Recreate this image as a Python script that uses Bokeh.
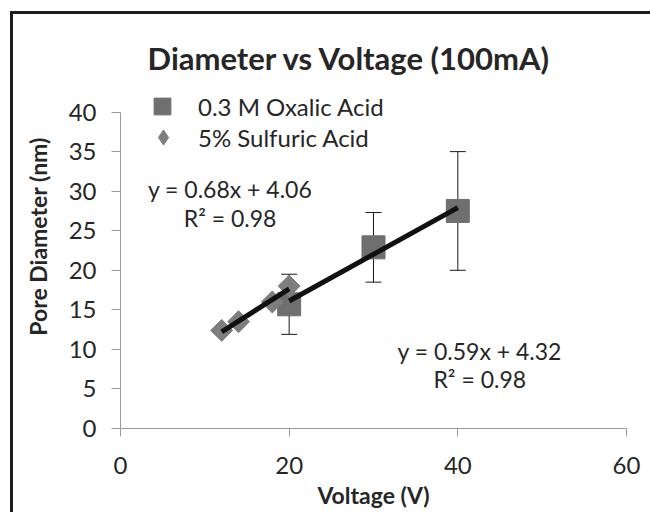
from bokeh.plotting import figure
from bokeh.models import (ColumnDataSource, Whisker, TeeHead, Legend, LegendItem,
                          FixedTicker, Label, Range1d, Spacer)
from bokeh.layouts import column, row
from bokeh.embed import file_html
from bokeh.resources import INLINE
import math

# ---------------- data ----------------
oxalic_x = [20, 30, 40]
oxalic_y = [15.7, 22.9, 27.5]
oxalic_err = [3.8, 4.4, 7.5]

sulfuric_x = [12, 14, 18, 20]
sulfuric_y = [12.4, 13.5, 16.0, 18.0]

fit_oxalic = (0.59, 4.32)     # slope, intercept
fit_sulfuric = (0.68, 4.06)

x_ticks = [0, 20, 40, 60]
y_ticks = [0, 5, 10, 15, 20, 25, 30, 35, 40]

title_text = "Diameter vs Voltage (100mA)"
x_title = "Voltage (V)"
y_title = "Pore Diameter (nm)"
eq_sulfuric = ["y = 0.68x + 4.06", "R² = 0.98"]
eq_oxalic = ["y = 0.59x + 4.32", "R² = 0.98"]

FONT = "Lato"
TXT = "#262626"

W, H = 640, 498
p = figure(width=W, height=H, output_backend="svg", toolbar_location=None, tools="",
           x_range=Range1d(0, 60), y_range=Range1d(0, 48.54),
           min_border_left=107, min_border_right=27, min_border_top=30,
           min_border_bottom=84)
p.outline_line_color = None
p.xgrid.visible = False
p.ygrid.visible = False
p.background_fill_color = "white"
p.border_fill_color = "white"

# title (drawn as a text annotation in the upper part of the frame)
p.add_layout(Label(x=27.16, y=46.78, text=title_text, text_align="center",
                   text_baseline="middle", text_font=FONT, text_font_size="31px",
                   text_font_style="bold", text_color=TXT))

# axes
for ax in (p.xaxis[0], p.yaxis[0]):
    ax.axis_line_color = "#9a9a9a"
    ax.major_tick_line_color = "#9a9a9a"
    ax.minor_tick_line_color = None
    ax.major_tick_in = 0
    ax.major_label_text_font = FONT
    ax.major_label_text_font_size = "24px"
    ax.major_label_text_color = TXT
    ax.axis_label_text_font = FONT
    ax.axis_label_text_font_size = "23px"
    ax.axis_label_text_font_style = "bold"
    ax.axis_label_text_color = TXT

p.xaxis.ticker = FixedTicker(ticks=x_ticks)
p.yaxis.ticker = FixedTicker(ticks=y_ticks)
p.yaxis.bounds = (0, 40)
p.xaxis.major_tick_out = 8
p.yaxis.major_tick_out = 9
p.xaxis.major_label_standoff = 20
p.yaxis.major_label_standoff = 15
p.xaxis.axis_label = x_title
p.yaxis.axis_label = y_title
p.xaxis.axis_label_standoff = 4
p.yaxis.axis_label_standoff = 14

# error bars (oxalic)
src_ox = ColumnDataSource(dict(
    x=oxalic_x, y=oxalic_y,
    lower=[y - e for y, e in zip(oxalic_y, oxalic_err)],
    upper=[y + e for y, e in zip(oxalic_y, oxalic_err)]))
wh = Whisker(source=src_ox, base="x", lower="lower", upper="upper",
             line_color="#1a1a1a", line_width=1,
             upper_head=TeeHead(size=16, line_color="#1a1a1a", line_width=1),
             lower_head=TeeHead(size=16, line_color="#1a1a1a", line_width=1),
             level="underlay")
p.add_layout(wh)

r_ox = p.scatter("x", "y", source=src_ox, marker="square", size=23,
                 fill_color="#6f6f6f", line_color="#6f6f6f")

src_su = ColumnDataSource(dict(x=sulfuric_x, y=sulfuric_y))
r_su = p.scatter("x", "y", source=src_su, marker="square", size=15.5,
                 angle=math.pi / 4, fill_color="#7e7e7e", line_color="#7e7e7e")
r_su_leg = p.scatter("x", "y", source=src_su, marker="diamond", size=16,
                     fill_color="#7e7e7e", line_color="#7e7e7e", visible=False)

# trendlines
for xs, (m, b) in ((sulfuric_x, fit_sulfuric), (oxalic_x, fit_oxalic)):
    lx = [min(xs), max(xs)]
    p.line(lx, [m * v + b for v in lx], line_color="#111111", line_width=5)

# legends
leg1 = Legend(items=[LegendItem(label="0.3 M Oxalic Acid", renderers=[r_ox])],
              location=(21, 301), glyph_width=42, glyph_height=42, label_height=42,
              label_standoff=15, padding=0, margin=0, spacing=0,
              border_line_color=None, background_fill_alpha=0,
              label_text_font=FONT, label_text_font_size="24px", label_text_color=TXT)
leg2 = Legend(items=[LegendItem(label="5% Sulfuric Acid", renderers=[r_su_leg])],
              location=(24, 272), glyph_width=38, glyph_height=38, label_height=38,
              label_standoff=16, padding=0, margin=0, spacing=0,
              border_line_color=None, background_fill_alpha=0,
              label_text_font=FONT, label_text_font_size="24px", label_text_color=TXT)
p.add_layout(leg1, "center")
p.add_layout(leg2, "center")

# equations
def add_eq(lines, x, ys):
    for t, yy in zip(lines, ys):
        p.add_layout(Label(x=x, y=yy, text=t, text_align="center",
                           text_baseline="alphabetic", text_font=FONT,
                           text_font_size="23px", text_color=TXT))

add_eq(eq_sulfuric, 13.0, [30.25, 26.6])
add_eq(eq_oxalic, 42.6, [9.8, 6.25])

# picture frame lines (top and left edges of the original image)
LINE = {"background-color": "#1c1c1c"}
top_line = Spacer(width=640, height=3, styles=LINE)
left_line = Spacer(width=3, height=H, styles=LINE)
inner = column(Spacer(width=1, height=11), top_line, row(left_line, p))
layout = row(Spacer(width=10, height=1), inner, width=650, height=512,
             styles={"overflow": "hidden"})

open("out.html", "w").write(file_html(layout, INLINE))
